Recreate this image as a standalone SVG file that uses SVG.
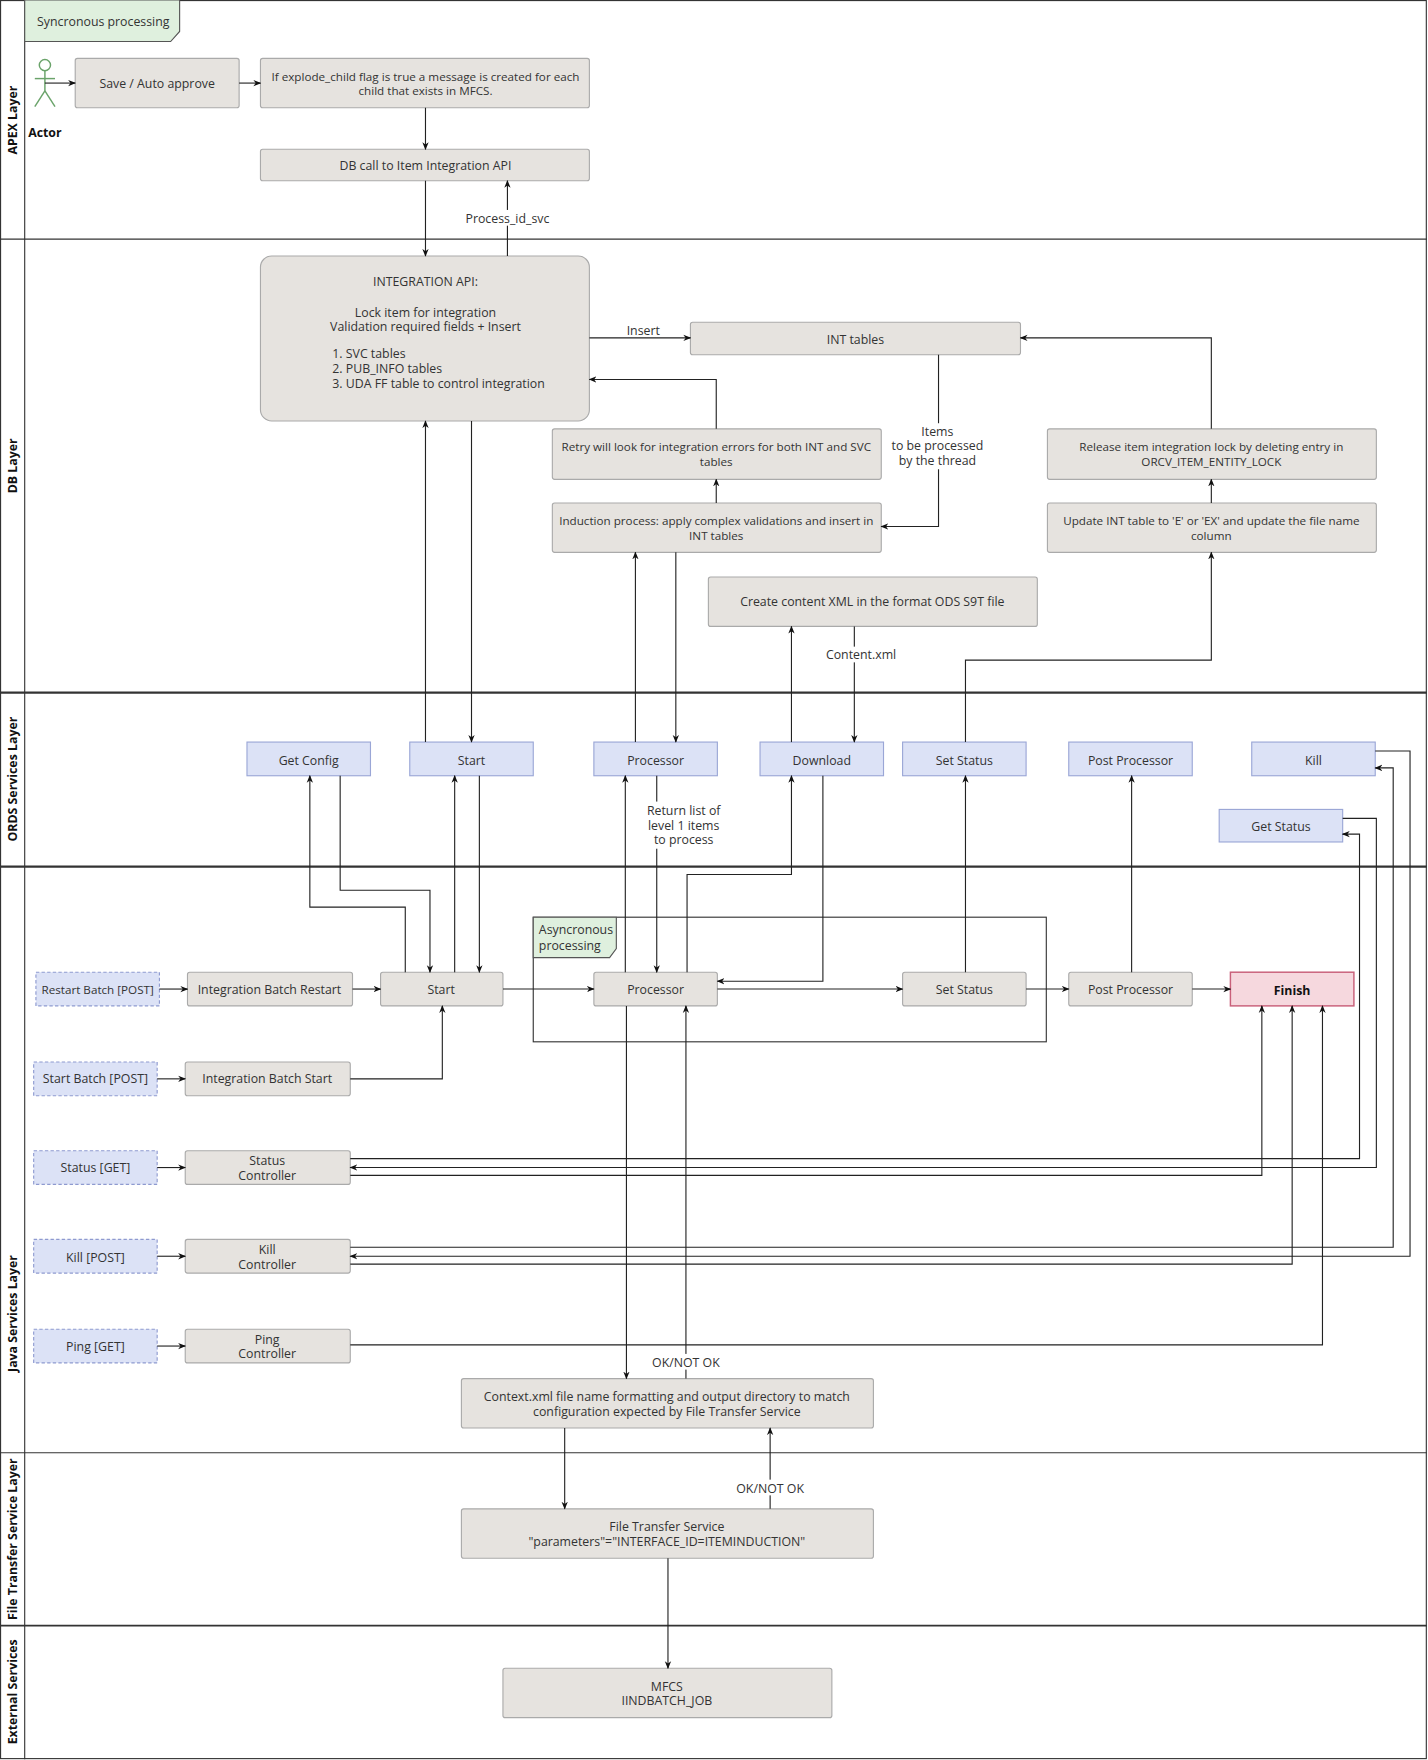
<svg xmlns="http://www.w3.org/2000/svg" width="1428" height="1760" viewBox="0 0 1428 1760">
<defs>
<marker id="a" viewBox="0 0 10 10" refX="9" refY="5" markerWidth="7" markerHeight="7" orient="auto-start-reverse"><path d="M0,1 L10,5 L0,9 L3,5 z" fill="#111"/></marker>
<style>
text{font-family:"Open Sans","Noto Sans","Liberation Sans",sans-serif;font-size:11px;fill:#333;text-anchor:middle}
.s{font-size:10.4px}
.b{fill:#e6e3df;stroke:#aaa;stroke-width:1}
.o{fill:#dce2f6;stroke:#9aa6d6;stroke-width:1}
.d{fill:#dce2f6;stroke:#8e9ad0;stroke-width:1;stroke-dasharray:3 2}
.g{fill:#dff0de;stroke:#555;stroke-width:1}
.lane{font-weight:bold;font-size:11px;fill:#111}
#c path{fill:none;stroke:#222;stroke-width:1;marker-end:url(#a)}
.lb{fill:#fff}
</style>
</defs>
<rect width="1428" height="1760" fill="#fff"/>
<g transform="scale(1.12264)">
<g id="lanes" fill="none" stroke="#333">
<rect x="0.5" y="0.5" width="1270" height="1566" stroke-width="1"/>
<line x1="22" y1="0" x2="22" y2="1567"/>
<line x1="0" y1="213" x2="1271" y2="213"/>
<line x1="0" y1="617" x2="1271" y2="617" stroke-width="2"/>
<line x1="0" y1="772" x2="1271" y2="772" stroke-width="2"/>
<line x1="0" y1="1294" x2="1271" y2="1294"/>
<line x1="0" y1="1448" x2="1271" y2="1448" stroke-width="1.5"/>
</g>
<g id="lanelabels">
<text class="lane" transform="translate(15,107) rotate(-90)">APEX Layer</text>
<text class="lane" transform="translate(15,415) rotate(-90)">DB Layer</text>
<text class="lane" transform="translate(15,694) rotate(-90)">ORDS Services Layer</text>
<text class="lane" transform="translate(15,1170) rotate(-90)">Java Services Layer</text>
<text class="lane" transform="translate(15,1371) rotate(-90)">File Transfer Service Layer</text>
<text class="lane" transform="translate(15,1507) rotate(-90)">External Services</text>
</g>
<g id="sync"><path class="g" d="M22,0 H160 V28 L152,37 H22 z"/><text x="92" y="23">Syncronous processing</text></g>
<g id="actor" fill="none" stroke="#6aa36a" stroke-width="1.3"><circle cx="40" cy="58" r="5"/><line x1="40" y1="63" x2="40" y2="81"/><line x1="31" y1="70" x2="49" y2="70"/><line x1="40" y1="81" x2="31" y2="95"/><line x1="40" y1="81" x2="49" y2="95"/><text x="40" y="122" stroke="none" style="font-weight:bold;fill:#111">Actor</text></g>
<g id="save"><rect class="b" x="67" y="52" width="146" height="44" rx="2"/><text x="140" y="78">Save / Auto approve</text></g>
<g id="explode"><rect class="b" x="232" y="52" width="293" height="44" rx="2"/><text class="s" x="379" y="72">If explode_child flag is true a message is created for each</text><text class="s" x="379" y="85">child that exists in MFCS.</text></g>
<g id="dbcall"><rect class="b" x="232" y="133" width="293" height="28" rx="2"/><text x="379" y="151">DB call to Item Integration API</text></g>
<g id="intapi"><rect class="b" x="232" y="228" width="293" height="147" rx="10"/><text x="379" y="255">INTEGRATION API:</text><text x="379" y="282">Lock item for integration</text><text x="379" y="295">Validation required fields + Insert</text><text x="296" y="319" style="text-anchor:start">1. SVC tables</text><text x="296" y="332" style="text-anchor:start">2. PUB_INFO tables</text><text x="296" y="346" style="text-anchor:start">3. UDA FF table to control integration</text></g>
<g id="inttables"><rect class="b" x="615" y="287" width="294" height="29" rx="2"/><text x="762" y="306">INT tables</text></g>
<g id="retry"><rect class="b" x="492" y="382" width="293" height="45" rx="2"/><text class="s" x="638" y="402">Retry will look for integration errors for both INT and SVC</text><text class="s" x="638" y="415">tables</text></g>
<g id="induction"><rect class="b" x="492" y="448" width="293" height="44" rx="2"/><text class="s" x="638" y="468">Induction process: apply complex validations and insert in</text><text class="s" x="638" y="481">INT tables</text></g>
<g id="release"><rect class="b" x="933" y="382" width="293" height="45" rx="2"/><text class="s" x="1079" y="402">Release item integration lock by deleting entry in</text><text class="s" x="1079" y="415">ORCV_ITEM_ENTITY_LOCK</text></g>
<g id="update"><rect class="b" x="933" y="448" width="293" height="44" rx="2"/><text class="s" x="1079" y="468">Update INT table to 'E' or 'EX' and  update the file name</text><text class="s" x="1079" y="481">column</text></g>
<g id="content"><rect class="b" x="631" y="514" width="293" height="44" rx="2"/><text x="777" y="540">Create content XML in the format ODS S9T file</text></g>
<g id="o-getconfig"><rect class="o" x="220" y="661" width="110" height="30"/><text x="275" y="681">Get Config</text></g>
<g id="o-start"><rect class="o" x="365" y="661" width="110" height="30"/><text x="420" y="681">Start</text></g>
<g id="o-processor"><rect class="o" x="529" y="661" width="110" height="30"/><text x="584" y="681">Processor</text></g>
<g id="o-download"><rect class="o" x="677" y="661" width="110" height="30"/><text x="732" y="681">Download</text></g>
<g id="o-setstatus"><rect class="o" x="804" y="661" width="110" height="30"/><text x="859" y="681">Set Status</text></g>
<g id="o-post"><rect class="o" x="952" y="661" width="110" height="30"/><text x="1007" y="681">Post Processor</text></g>
<g id="o-kill"><rect class="o" x="1115" y="661" width="110" height="30"/><text x="1170" y="681">Kill</text></g>
<g id="o-getstatus"><rect class="o" x="1086" y="721" width="110" height="29"/><text x="1141" y="740">Get Status</text></g>
<g id="async"><rect x="475" y="817" width="457" height="111" fill="none" stroke="#333"/><path class="g" d="M475,817 H549 V845 L543,853 H475 z"/><text x="480" y="832" style="text-anchor:start">Asyncronous</text><text x="480" y="846" style="text-anchor:start">processing</text></g>
<g id="restartbatch"><rect class="d" x="32" y="866" width="110" height="30"/><text class="s" x="87" y="885">Restart Batch [POST]</text></g>
<g id="ibr"><rect class="b" x="167" y="866" width="147" height="30" rx="2"/><text x="240" y="885">Integration Batch Restart</text></g>
<g id="j-start"><rect class="b" x="339" y="866" width="109" height="30" rx="2"/><text x="393" y="885">Start</text></g>
<g id="j-processor"><rect class="b" x="529" y="866" width="110" height="30" rx="2"/><text x="584" y="885">Processor</text></g>
<g id="j-setstatus"><rect class="b" x="804" y="866" width="110" height="30" rx="2"/><text x="859" y="885">Set Status</text></g>
<g id="j-post"><rect class="b" x="952" y="866" width="110" height="30" rx="2"/><text x="1007" y="885">Post Processor</text></g>
<g id="finish"><rect x="1096" y="866" width="110" height="30" fill="#f6d8de" stroke="#c9607a" stroke-width="1.3"/><text x="1151" y="886" style="font-weight:bold;fill:#111">Finish</text></g>
<g id="startbatch"><rect class="d" x="30" y="946" width="110" height="30"/><text x="85" y="965">Start Batch [POST]</text></g>
<g id="ibs"><rect class="b" x="165" y="946" width="147" height="30" rx="2"/><text x="238" y="965">Integration Batch Start</text></g>
<g id="statusget"><rect class="d" x="30" y="1025" width="110" height="30"/><text x="85" y="1044">Status [GET]</text></g>
<g id="statusctl"><rect class="b" x="165" y="1025" width="147" height="30" rx="2"/><text x="238" y="1038">Status</text><text x="238" y="1051">Controller</text></g>
<g id="killpost"><rect class="d" x="30" y="1104" width="110" height="30"/><text x="85" y="1124">Kill [POST]</text></g>
<g id="killctl"><rect class="b" x="165" y="1104" width="147" height="30" rx="2"/><text x="238" y="1117">Kill</text><text x="238" y="1130">Controller</text></g>
<g id="pingget"><rect class="d" x="30" y="1184" width="110" height="30"/><text x="85" y="1203">Ping [GET]</text></g>
<g id="pingctl"><rect class="b" x="165" y="1184" width="147" height="30" rx="2"/><text x="238" y="1197">Ping</text><text x="238" y="1210">Controller</text></g>
<g id="contextxml"><rect class="b" x="411" y="1228" width="367" height="44" rx="2"/><text x="594" y="1248">Context.xml file name formatting and output directory to match</text><text x="594" y="1261">configuration expected by File Transfer Service</text></g>
<g id="fts"><rect class="b" x="411" y="1344" width="367" height="44" rx="2"/><text x="594" y="1364">File Transfer Service</text><text x="594" y="1377">"parameters"="INTERFACE_ID=ITEMINDUCTION"</text></g>
<g id="mfcs"><rect class="b" x="448" y="1486" width="293" height="44" rx="2"/><text x="594" y="1506">MFCS</text><text x="594" y="1519">IINDBATCH_JOB</text></g>
<g id="c">
<path d="M40,74 H67"/><path d="M213,74 H232"/><path d="M379,96 V133"/>
<path d="M379,161 V228"/><path d="M452,228 V161"/>
<path d="M525,301 H615"/>
<path d="M638,382 V338 H525"/><path d="M638,448 V427"/>
<path d="M836,316 V469 H785"/>
<path d="M1079,382 V301 H909"/><path d="M1079,448 V427"/>
<path d="M379,661 V375"/><path d="M420,375 V661"/>
<path d="M566,661 V492"/><path d="M602,492 V661"/>
<path d="M705,661 V558"/><path d="M761,558 V661"/>
<path d="M860,661 V588 H1079 V492"/>
<path d="M361,866 V808 H276 V691"/><path d="M303,691 V793 H383 V866"/>
<path d="M405,866 V691"/><path d="M427,691 V866"/>
<path d="M142,881 H167"/><path d="M314,881 H339"/><path d="M448,881 H529"/>
<path d="M140,961 H165"/><path d="M312,961 H394 V896"/>
<path d="M140,1040 H165"/><path d="M140,1119 H165"/><path d="M140,1199 H165"/>
<path d="M557,866 V691"/><path d="M585,691 V866"/>
<path d="M612,866 V779 H705 V691"/><path d="M733,691 V874 H639"/>
<path d="M639,881 H804"/><path d="M914,881 H952"/><path d="M1062,881 H1096"/>
<path d="M860,866 V691"/><path d="M1008,866 V691"/>
<path d="M558,896 V1228"/><path d="M611,1228 V896"/>
<path d="M503,1272 V1344"/><path d="M686,1344 V1272"/>
<path d="M595,1388 V1486"/>
<path d="M312,1032 H1211 V743 H1196"/><path d="M1196,729 H1226 V1040 H312"/><path d="M312,1047 H1124 V896"/>
<path d="M312,1111 H1241 V684 H1225"/><path d="M1225,669 H1256 V1119 H312"/><path d="M312,1126 H1151 V896"/>
<path d="M312,1198 H1178 V896"/>
</g>
<g id="labels">
<rect class="lb" x="414" y="187" width="78" height="14"/><text x="452" y="199">Process_id_svc</text>
<text x="573" y="298">Insert</text>
<rect class="lb" x="795" y="377" width="80" height="41"/><text x="835" y="388">Items</text><text x="835" y="401">to be processed</text><text x="835" y="414">by the thread</text>
<rect class="lb" x="735" y="576" width="64" height="14"/><text x="767" y="587">Content.xml</text>
<rect class="lb" x="576" y="714" width="66" height="42"/><text x="609" y="726">Return list of</text><text x="609" y="739">level 1 items</text><text x="609" y="752">to process</text>
<rect class="lb" x="578" y="1206" width="66" height="14"/><text x="611" y="1218">OK/NOT OK</text>
<rect class="lb" x="653" y="1318" width="66" height="14"/><text x="686" y="1330">OK/NOT OK</text>
</g>
</g>
</svg>
